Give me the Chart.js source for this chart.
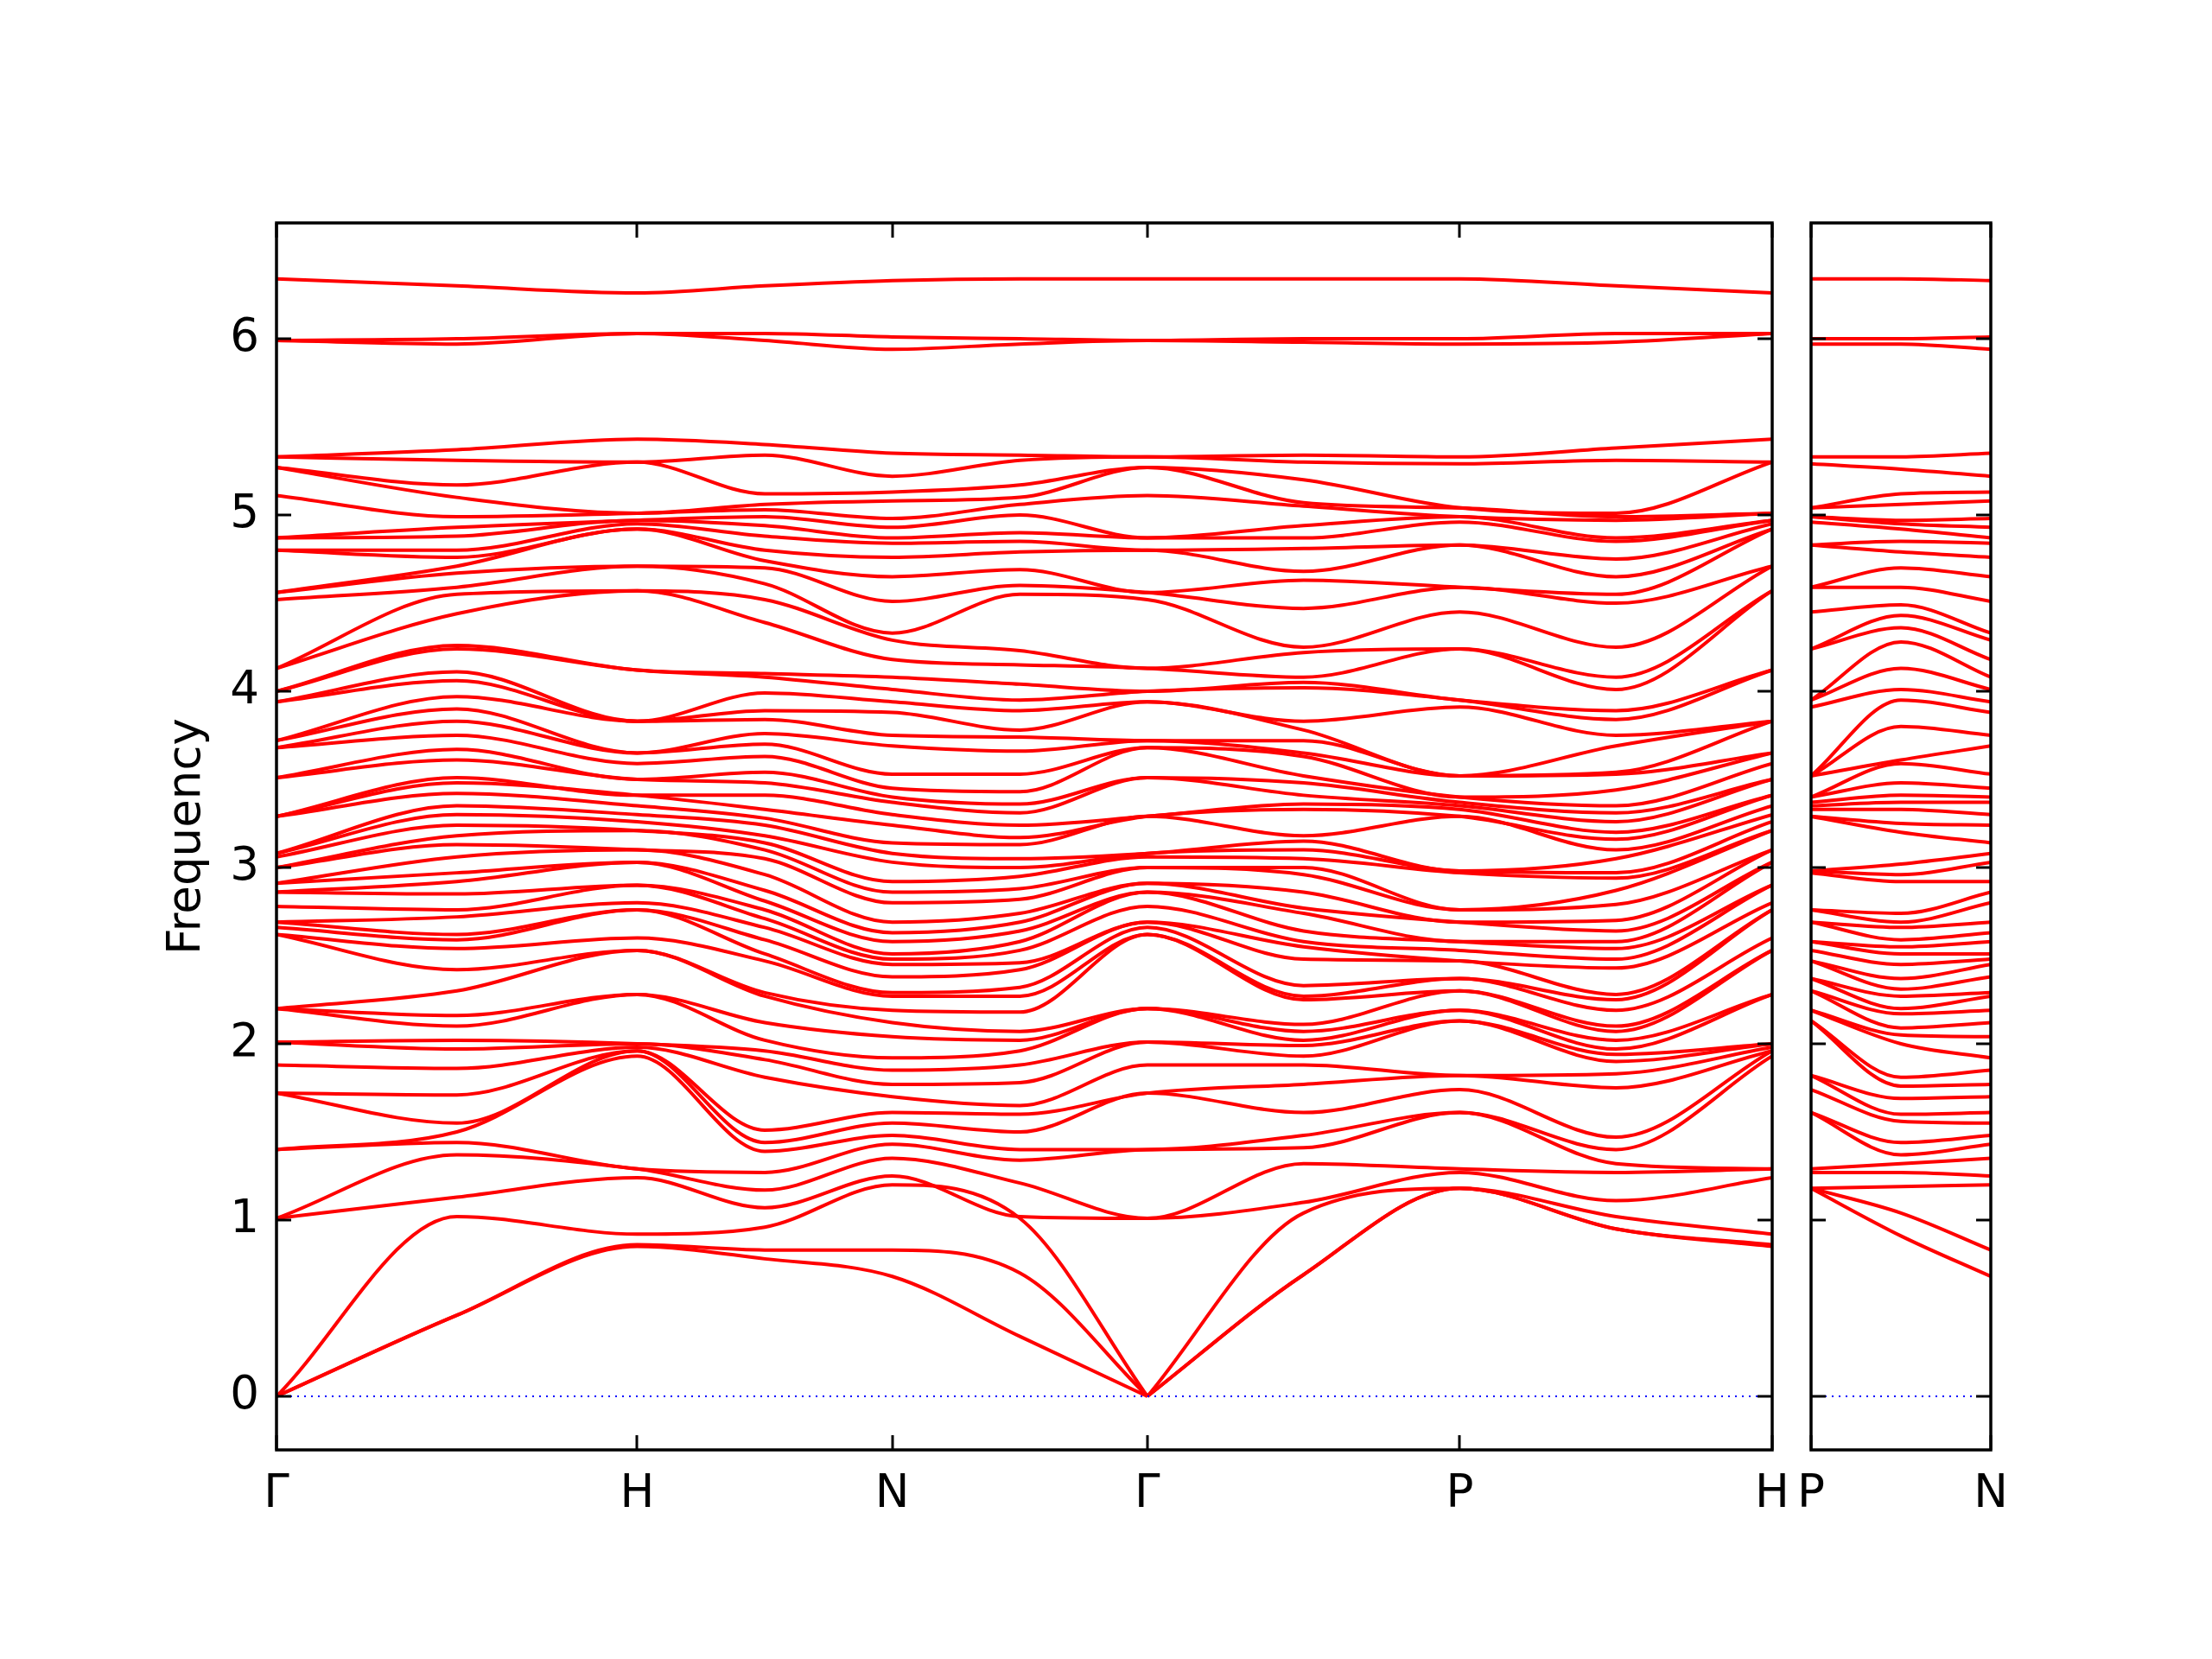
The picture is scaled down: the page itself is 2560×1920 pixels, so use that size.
<!DOCTYPE html>
<html>
<head>
<meta charset="utf-8">
<script src="https://cdn.jsdelivr.net/npm/chart.js@4.4.0/dist/chart.umd.min.js"></script>
<style>
  html, body { margin: 0; padding: 0; background: #fff; }
  body { width: 2560px; height: 1920px; position: relative; overflow: hidden; }
  canvas { position: absolute; top: 0; }
  #mainChart { left: 0; }
  #sideChart { left: 2060px; }
</style>
</head>
<body>
<canvas id="mainChart" width="2100" height="1920"></canvas>
<canvas id="sideChart" width="300" height="1920"></canvas>
<script>
// Phonon band structure: path G-H-N-G-P-H and the extra P-N segment

const pathLabels = ['Γ', 'H', 'N', 'Γ', 'P', 'H'];
const pathTicks = [0, 1, 1.7071, 2.4142, 3.2802, 4.1463];
const sideLabels = ['P', 'N'];
const sideTicks = [0, 0.5];
const freqTicks = [0, 1, 2, 3, 4, 5, 6];

// k positions where the bands were read (symmetry points + midpoints)
const kMain = [0, 0.5, 1, 1.3536, 1.7071, 2.0607, 2.4142, 2.8472, 3.2802, 3.7133, 4.1463];
const kSide = [0, 0.25, 0.5];

// frequencies of the 60 bands at each k point, lowest band first
const atGamma = [0, 0, 0, 1.01, 1.01, 1.40, 1.40, 1.72, 1.72, 1.88,
  2.01, 2.01, 2.20, 2.20, 2.20, 2.62, 2.62, 2.66, 2.69, 2.69,
  2.78, 2.86, 2.86, 2.91, 2.91, 3.00, 3.00, 3.06, 3.08, 3.08,
  3.29, 3.29, 3.29, 3.51, 3.51, 3.68, 3.68, 3.72, 3.72, 3.94,
  3.94, 4.00, 4.00, 4.13, 4.13, 4.52, 4.56, 4.56, 4.80, 4.80,
  4.87, 4.87, 5.11, 5.27, 5.27, 5.33, 5.33, 5.99, 5.99, 6.34];
const midGH = [0.46, 0.46, 1.02, 1.13, 1.37, 1.44, 1.50, 1.55, 1.71, 1.86,
  1.97, 2.02, 2.10, 2.16, 2.30, 2.42, 2.54, 2.59, 2.62, 2.72,
  2.76, 2.85, 2.92, 2.97, 3.06, 3.13, 3.18, 3.24, 3.30, 3.35,
  3.42, 3.48, 3.51, 3.61, 3.67, 3.75, 3.83, 3.90, 3.97, 4.06,
  4.11, 4.24, 4.26, 4.44, 4.55, 4.59, 4.67, 4.71, 4.76, 4.80,
  4.88, 4.93, 4.99, 5.10, 5.17, 5.31, 5.37, 5.97, 6.00, 6.30];
const atH = [0.85, 0.86, 0.92, 1.24, 1.29, 1.29, 1.93, 1.96, 1.96, 1.98,
  2.00, 2.00, 2.28, 2.28, 2.53, 2.53, 2.60, 2.76, 2.76, 2.80,
  2.90, 2.90, 3.03, 3.03, 3.10, 3.10, 3.21, 3.21, 3.26, 3.30,
  3.35, 3.41, 3.41, 3.50, 3.50, 3.59, 3.65, 3.65, 3.83, 3.83,
  3.83, 4.12, 4.12, 4.57, 4.57, 4.71, 4.71, 4.92, 4.92, 4.95,
  4.97, 4.97, 5.01, 5.01, 5.30, 5.30, 5.43, 6.03, 6.03, 6.26];
const midHN = [0.78, 0.83, 0.96, 1.07, 1.17, 1.27, 1.39, 1.44, 1.51, 1.81,
  1.91, 1.96, 2.02, 2.12, 2.27, 2.29, 2.47, 2.51, 2.59, 2.66,
  2.71, 2.76, 2.81, 2.87, 2.96, 3.05, 3.10, 3.14, 3.18, 3.24,
  3.28, 3.33, 3.41, 3.48, 3.54, 3.63, 3.70, 3.76, 3.84, 3.89,
  3.99, 4.08, 4.10, 4.39, 4.52, 4.61, 4.70, 4.74, 4.80, 4.88,
  4.94, 4.99, 5.03, 5.06, 5.12, 5.34, 5.40, 5.99, 6.03, 6.30];
const atN = [0.68, 0.83, 1.20, 1.25, 1.35, 1.43, 1.48, 1.55, 1.61, 1.70,
  1.77, 1.85, 1.92, 2.04, 2.12, 2.19, 2.27, 2.29, 2.38, 2.45,
  2.48, 2.51, 2.58, 2.63, 2.69, 2.80, 2.86, 2.92, 3.03, 3.08,
  3.14, 3.24, 3.30, 3.37, 3.40, 3.45, 3.53, 3.69, 3.75, 3.88,
  3.94, 4.01, 4.08, 4.18, 4.29, 4.33, 4.51, 4.65, 4.76, 4.84,
  4.87, 4.93, 4.98, 5.08, 5.13, 5.22, 5.35, 5.94, 6.01, 6.33];
const midNG = [0.34, 0.70, 1.01, 1.02, 1.21, 1.34, 1.40, 1.50, 1.60, 1.65,
  1.78, 1.88, 1.96, 2.02, 2.07, 2.18, 2.27, 2.32, 2.42, 2.46,
  2.53, 2.58, 2.64, 2.69, 2.74, 2.82, 2.88, 2.95, 3.00, 3.05,
  3.13, 3.17, 3.24, 3.31, 3.36, 3.43, 3.53, 3.66, 3.74, 3.78,
  3.89, 3.95, 4.04, 4.15, 4.23, 4.55, 4.60, 4.69, 4.79, 4.85,
  4.90, 5.00, 5.06, 5.10, 5.17, 5.31, 5.34, 5.97, 6.00, 6.34];
const midGP = [0.69, 0.69, 1.04, 1.10, 1.32, 1.41, 1.48, 1.61, 1.77, 1.88,
  1.93, 1.99, 2.02, 2.07, 2.11, 2.25, 2.27, 2.33, 2.48, 2.55,
  2.58, 2.64, 2.74, 2.77, 2.86, 2.96, 3.00, 3.05, 3.10, 3.15,
  3.18, 3.33, 3.36, 3.41, 3.48, 3.52, 3.63, 3.65, 3.72, 3.78,
  3.83, 4.02, 4.05, 4.08, 4.22, 4.25, 4.47, 4.63, 4.68, 4.81,
  4.87, 4.94, 5.05, 5.07, 5.20, 5.30, 5.34, 5.98, 6.00, 6.34];
const atP = [1.18, 1.18, 1.18, 1.27, 1.29, 1.61, 1.61, 1.74, 1.82, 1.82,
  2.13, 2.13, 2.19, 2.19, 2.30, 2.30, 2.37, 2.37, 2.47, 2.47,
  2.53, 2.58, 2.58, 2.69, 2.69, 2.76, 2.76, 2.97, 2.98, 2.98,
  3.29, 3.29, 3.33, 3.35, 3.37, 3.40, 3.40, 3.52, 3.52, 3.52,
  3.91, 3.95, 3.95, 4.24, 4.24, 4.45, 4.59, 4.59, 4.83, 4.83,
  4.96, 4.99, 4.99, 5.04, 5.04, 5.29, 5.33, 5.97, 6.00, 6.34];
const midPH = [0.95, 0.95, 1.02, 1.11, 1.27, 1.32, 1.40, 1.47, 1.75, 1.83,
  1.90, 1.94, 1.97, 2.02, 2.07, 2.10, 2.19, 2.25, 2.28, 2.43,
  2.48, 2.54, 2.58, 2.64, 2.70, 2.79, 2.87, 2.94, 2.97, 3.05,
  3.10, 3.16, 3.20, 3.26, 3.31, 3.35, 3.44, 3.53, 3.54, 3.69,
  3.75, 3.84, 3.89, 4.01, 4.08, 4.25, 4.50, 4.55, 4.65, 4.75,
  4.85, 4.87, 4.97, 4.99, 5.01, 5.31, 5.38, 5.98, 6.03, 6.30];
const midPN = [0.91, 1.04, 1.19, 1.27, 1.32, 1.37, 1.44, 1.56, 1.60, 1.69,
  1.76, 1.81, 2.00, 2.05, 2.09, 2.17, 2.20, 2.27, 2.31, 2.37,
  2.45, 2.51, 2.55, 2.59, 2.66, 2.69, 2.74, 2.92, 2.96, 3.02,
  3.20, 3.25, 3.33, 3.37, 3.41, 3.48, 3.59, 3.61, 3.80, 3.95,
  4.01, 4.13, 4.28, 4.36, 4.43, 4.49, 4.59, 4.70, 4.79, 4.85,
  4.92, 4.95, 4.97, 5.06, 5.12, 5.26, 5.33, 5.97, 6.00, 6.34];

const mainCols = [atGamma, midGH, atH, midHN, atN, midNG, atGamma, midGP, atP, midPH, atH];
const sideCols = [atP, midPN, atN];

const FONT = 'DejaVu Sans';

function lineSet(points, color) {
  return {
    data: points,
    borderColor: color,
    borderWidth: 4,
    pointRadius: 0,
    cubicInterpolationMode: 'monotone'
  };
}

function bandSets(cols, ks) {
  const sets = [{
    // zero frequency reference
    data: [{x: ks[0], y: 0}, {x: ks[ks.length - 1], y: 0}],
    borderColor: '#0000ff',
    borderWidth: 2,
    borderDash: [2, 6],
    pointRadius: 0
  }];
  for (let b = 0; b < cols[0].length; b++) {
    const pts = ks.map((k, j) => ({x: k, y: cols[j][b]}));
    // acoustic branches meet Γ linearly: break the curve where it touches 0
    let start = 0;
    for (let j = 1; j < pts.length - 1; j++) {
      if (pts[j].y === 0) {
        sets.push(lineSet(pts.slice(start, j + 1), '#ff0000'));
        start = j;
      }
    }
    sets.push(lineSet(pts.slice(start), '#ff0000'));
  }
  return sets;
}

// box round the plot and inward ticks on all four sides
const framePlugin = {
  id: 'frame',
  afterDatasetsDraw(chart) {
    const {ctx, chartArea: a, scales} = chart;
    const len = 17;
    ctx.save();
    ctx.strokeStyle = '#000';
    ctx.lineWidth = 3;
    ctx.beginPath();
    scales.y.ticks.forEach(t => {
      const py = Math.round(scales.y.getPixelForValue(t.value));
      ctx.moveTo(a.left, py); ctx.lineTo(a.left + len, py);
      ctx.moveTo(a.right, py); ctx.lineTo(a.right - len, py);
    });
    scales.x.ticks.forEach(t => {
      const px = Math.round(scales.x.getPixelForValue(t.value));
      ctx.moveTo(px, a.bottom); ctx.lineTo(px, a.bottom - len);
      ctx.moveTo(px, a.top); ctx.lineTo(px, a.top + len);
    });
    ctx.stroke();
    ctx.lineWidth = 3.5;
    ctx.strokeRect(a.left, a.top, a.right - a.left, a.bottom - a.top);
    ctx.restore();
  }
};

function makeChart(id, sets, tickPos, tickLabels, pad, yWidth) {
  return new Chart(document.getElementById(id), {
    type: 'line',
    data: { datasets: sets },
    options: {
      responsive: false,
      animation: false,
      devicePixelRatio: 1,
      layout: { padding: pad },
      plugins: { legend: { display: false }, tooltip: { enabled: false } },
      scales: {
        x: {
          type: 'linear',
          min: tickPos[0],
          max: tickPos[tickPos.length - 1],
          grid: { display: false, drawTicks: false },
          border: { display: false },
          afterBuildTicks: s => { s.ticks = tickPos.map(v => ({ value: v })); },
          afterFit: s => { s.height = 242; },
          ticks: {
            autoSkip: false, maxRotation: 0, minRotation: 0, padding: 20,
            color: '#000', font: { family: FONT, size: 53 },
            callback: (v, i) => tickLabels[i]
          }
        },
        y: {
          min: -0.304,
          max: 6.657,
          display: yWidth > 0,
          grid: { display: false, drawTicks: false },
          border: { display: false },
          afterBuildTicks: s => { s.ticks = freqTicks.map(v => ({ value: v })); },
          afterFit: s => { s.width = yWidth; },
          ticks: {
            padding: 20, color: '#000', font: { family: FONT, size: 53 },
            callback: v => String(v)
          },
          title: {
            display: true, text: 'Frequency', color: '#000',
            font: { family: FONT, size: 53 }, padding: { top: 4, bottom: 4 }
          }
        }
      }
    },
    plugins: [framePlugin]
  });
}

makeChart('mainChart', bandSets(mainCols, kMain), pathTicks, pathLabels,
  { left: 181, top: 258, right: 49, bottom: 0 }, 139);
makeChart('sideChart', bandSets(sideCols, kSide), sideTicks, sideLabels,
  { left: 35, top: 258, right: 56, bottom: 0 }, 0);
</script>
</body>
</html>
